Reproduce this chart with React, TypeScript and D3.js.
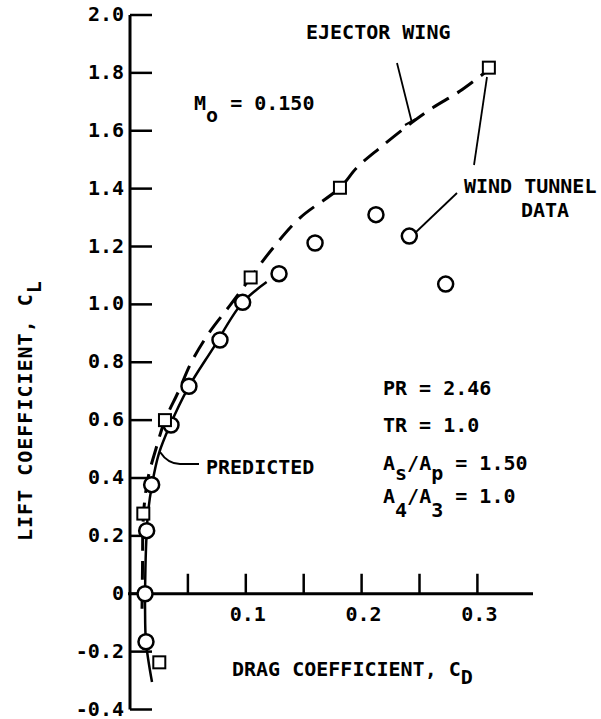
import React from "react";
import * as d3 from "d3";

// ---- data (CD = drag coefficient, CL = lift coefficient) ----
const windTunnelCD = [0.0138, 0.013, 0.0144, 0.0187, 0.0354, 0.0509, 0.0777, 0.0973, 0.1287, 0.1598, 0.2124, 0.2412, 0.2726];
const windTunnelCL = [-0.166, 0.0, 0.218, 0.377, 0.583, 0.717, 0.877, 1.007, 1.106, 1.212, 1.31, 1.236, 1.07];

const ejectorCD = [0.0253, 0.0115, 0.0302, 0.1042, 0.1813, 0.3099];
const ejectorCL = [-0.237, 0.277, 0.6, 1.093, 1.403, 1.818];

const predictedCD = [0.019, 0.0138, 0.013, 0.013, 0.0138, 0.0155, 0.019, 0.025, 0.0345, 0.05, 0.0717, 0.0967, 0.118];
const predictedCL = [-0.305, -0.166, -0.05, 0.0, 0.156, 0.277, 0.377, 0.485, 0.582, 0.71, 0.848, 1.004, 1.077];

const ejectorCurveCD = [0.0104, 0.0108, 0.0117, 0.0155, 0.0225, 0.0302, 0.042, 0.053, 0.068, 0.087, 0.1042, 0.1235, 0.1468, 0.1813, 0.1958, 0.2159, 0.2433, 0.2617, 0.285, 0.3094];
const ejectorCurveCL = [-0.052, 0.087, 0.277, 0.398, 0.502, 0.6, 0.7, 0.8, 0.9, 1.0, 1.093, 1.195, 1.299, 1.403, 1.472, 1.541, 1.628, 1.68, 1.737, 1.81];

const xTicks = [0.05, 0.1, 0.15, 0.2, 0.25, 0.3];
const xTickLabels = ["0.1", "0.2", "0.3"];
const yTicks = [-0.4, -0.2, 0, 0.2, 0.4, 0.6, 0.8, 1.0, 1.2, 1.4, 1.6, 1.8, 2.0];
const yTickLabels = ["-0.4", "-0.2", "0", "0.2", "0.4", "0.6", "0.8", "1.0", "1.2", "1.4", "1.6", "1.8", "2.0"];

const W = 601;
const H = 719;
const FONT = "'DejaVu Sans Mono', monospace";

export default function App() {
  const x = d3.scaleLinear().domain([0, 0.3]).range([130, 477.4]);
  const y = d3.scaleLinear().domain([-0.4, 2.0]).range([709.5, 15]);

  const line = d3
    .line<[number, number]>()
    .x((d) => x(d[0]))
    .y((d) => y(d[1]))
    .curve(d3.curveCatmullRom.alpha(0.5));

  const predPts = predictedCD.map((c, i) => [c, predictedCL[i]] as [number, number]);
  const ejPts = ejectorCurveCD.map((c, i) => [c, ejectorCurveCL[i]] as [number, number]);

  const x0 = x(0);
  const y0 = y(0);
  const textStyle = { fontFamily: FONT, fontWeight: "bold" as const, fontSize: 20, fill: "#000" };

  return (
    <svg
      width={W}
      height={H}
      viewBox={`0 0 ${W} ${H}`}
      style={{ position: "absolute", left: 0, top: 0, background: "#fff" }}
    >
      <rect x={0} y={0} width={W} height={H} fill="#fff" />

      {/* axes */}
      <line x1={x0} x2={x0} y1={y(2.0)} y2={y(-0.4)} stroke="#000" strokeWidth={3} />
      <line x1={x0 - 2} x2={533} y1={y0} y2={y0} stroke="#000" strokeWidth={3} />
      {yTicks.map((t) => (
        <line key={"yt" + t} x1={x0} x2={x0 + 22} y1={y(t)} y2={y(t)} stroke="#000" strokeWidth={2.5} />
      ))}
      {xTicks.map((t) => (
        <line key={"xt" + t} x1={x(t)} x2={x(t)} y1={y0} y2={y0 - 20} stroke="#000" strokeWidth={2.5} />
      ))}
      {yTicks.map((t, i) => (
        <text key={"yl" + t} x={124} y={y(t) + 6} textAnchor="end" style={textStyle}>
          {yTickLabels[i]}
        </text>
      ))}
      {[0.1, 0.2, 0.3].map((t, i) => (
        <text key={"xl" + t} x={x(t) + 2} y={621} textAnchor="middle" style={textStyle}>
          {xTickLabels[i]}
        </text>
      ))}

      {/* axis titles */}
      <text x={232} y={676} style={textStyle}>
        DRAG COEFFICIENT, C<tspan dy={8}>D</tspan>
      </text>
      <text transform="translate(32,541) rotate(-90)" style={{ ...textStyle, letterSpacing: 1 }}>
        LIFT COEFFICIENT, C<tspan dy={9}>L</tspan>
      </text>

      {/* curves */}
      <path d={line(predPts) || ""} fill="none" stroke="#000" strokeWidth={2.5} />
      <path d={line(ejPts) || ""} fill="none" stroke="#000" strokeWidth={3} strokeDasharray="19 10" />

      {/* markers */}
      {windTunnelCD.map((c, i) => (
        <circle key={"c" + i} cx={x(c)} cy={y(windTunnelCL[i])} r={7.5} fill="#fff" stroke="#000" strokeWidth={2.5} />
      ))}
      {ejectorCD.map((c, i) => (
        <rect key={"s" + i} x={x(c) - 6} y={y(ejectorCL[i]) - 6} width={12} height={12} fill="#fff" stroke="#000" strokeWidth={2} />
      ))}

      {/* annotations */}
      <text x={306} y={39} style={textStyle}>EJECTOR WING</text>
      <line x1={397} y1={63} x2={411.5} y2={121} stroke="#000" strokeWidth={1.8} />
      <line x1={405} y1={125} x2={416} y2={119} stroke="#000" strokeWidth={2} />
      <text x={194} y={110} style={textStyle}>
        M<tspan dy={12}>o</tspan>
        <tspan dy={-12}> = 0.150</tspan>
      </text>
      <text x={464} y={193} style={textStyle}>WIND TUNNEL</text>
      <text x={521} y={217} style={textStyle}>DATA</text>
      <line x1={474} y1={165} x2={487} y2={77} stroke="#000" strokeWidth={1.8} />
      <line x1={457} y1={193} x2={415} y2={233} stroke="#000" strokeWidth={1.8} />
      <path d="M160,452 Q168,464 180,464 L199,464" fill="none" stroke="#000" strokeWidth={2} />
      <text x={206} y={474} style={textStyle}>PREDICTED</text>

      <text x={383} y={395} style={textStyle}>PR = 2.46</text>
      <text x={383} y={432} style={textStyle}>TR = 1.0</text>
      <text x={383} y={470} style={textStyle}>
        A<tspan dy={10}>s</tspan>
        <tspan dy={-10}>/A</tspan>
        <tspan dy={10}>p</tspan>
        <tspan dy={-10}> = 1.50</tspan>
      </text>
      <text x={383} y={503} style={textStyle}>
        A<tspan dy={14}>4</tspan>
        <tspan dy={-14}>/A</tspan>
        <tspan dy={14}>3</tspan>
        <tspan dy={-14}> = 1.0</tspan>
      </text>
    </svg>
  );
}
